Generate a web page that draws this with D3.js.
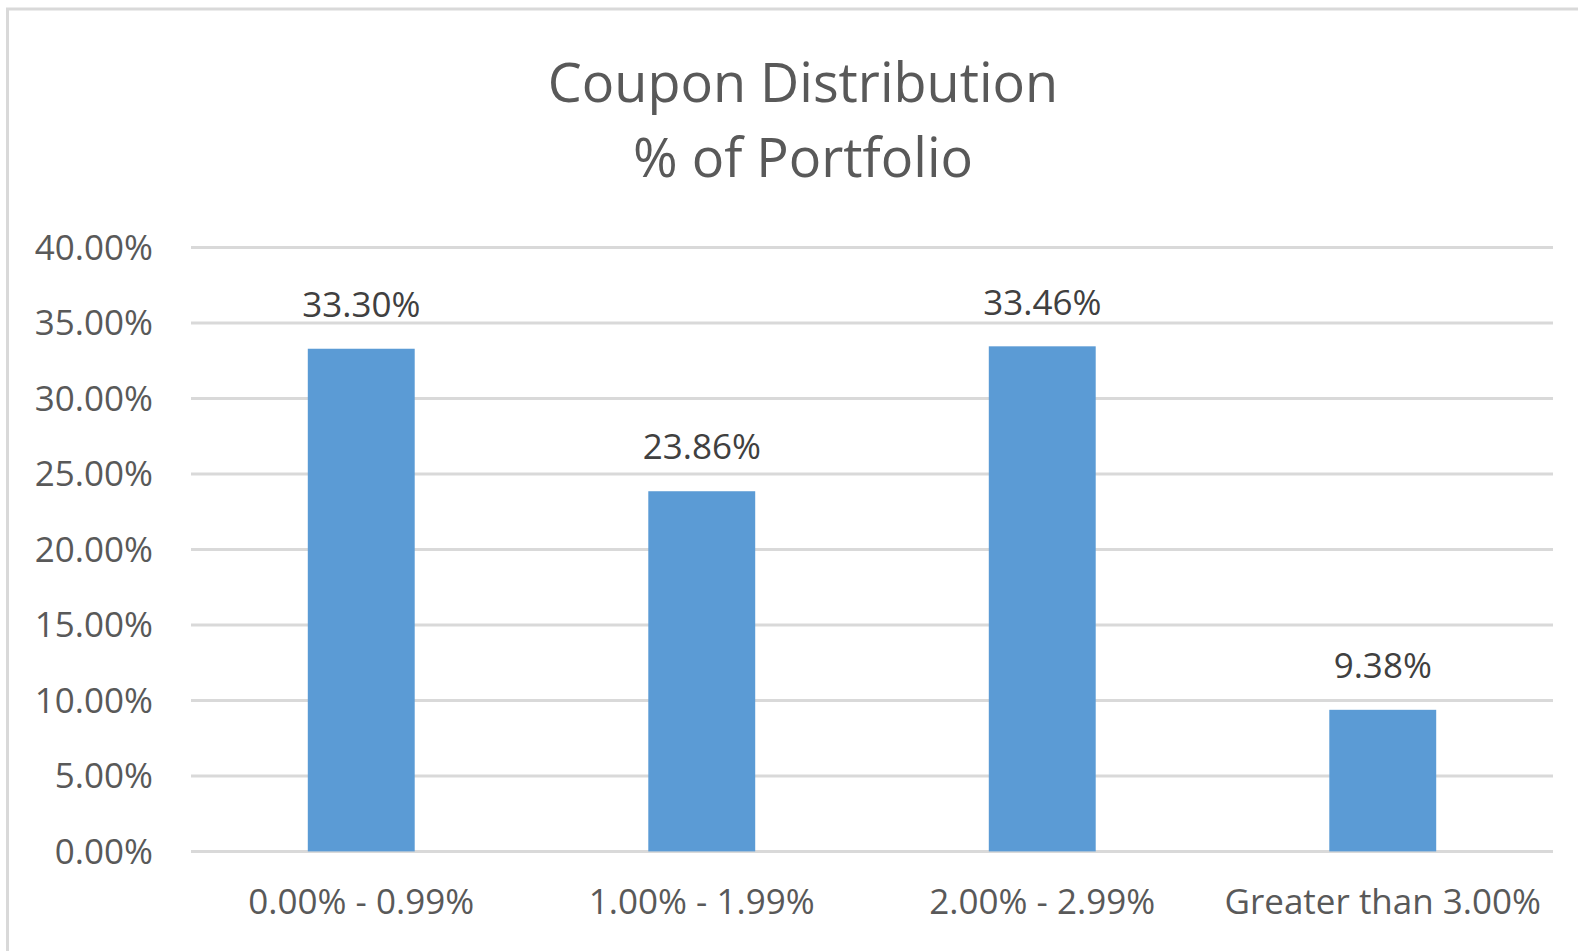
<!DOCTYPE html>
<html>
<head>
<meta charset="utf-8">
<script src="https://cdn.jsdelivr.net/npm/d3@7"></script>
<style>
  body { margin: 0; background: #fff; }
  text { font-family: "Open Sans", sans-serif; }
</style>
</head>
<body>
<script>
const width = 1578;
const height = 951;

const categories = ['0.00% - 0.99%', '1.00% - 1.99%', '2.00% - 2.99%', 'Greater than 3.00%'];
const values = [33.30, 23.86, 33.46, 9.38];
const yTicks = [0, 5, 10, 15, 20, 25, 30, 35, 40];
const titleLines = ['Coupon Distribution', '% of Portfolio'];

const plot = { left: 191, right: 1553, top: 247.6, bottom: 851.4 };

const svg = d3.select('body').append('svg').attr('width', width).attr('height', height);

// chart area border (runs off the right and bottom edges)
svg.append('rect')
  .attr('x', 7.5).attr('y', 9)
  .attr('width', 1700).attr('height', 1100)
  .attr('fill', '#fff')
  .attr('stroke', '#d9d9d9')
  .attr('stroke-width', 3);

const x = d3.scaleBand().domain(categories).range([plot.left, plot.right]).padding(0);
const y = d3.scaleLinear().domain([0, 40]).range([plot.bottom, plot.top]);
const barW = x.bandwidth() * 0.314;

// gridlines
svg.selectAll('.grid')
  .data(yTicks)
  .enter()
  .append('line')
  .attr('class', 'grid')
  .attr('x1', plot.left)
  .attr('x2', plot.right)
  .attr('y1', (d) => y(d))
  .attr('y2', (d) => y(d))
  .attr('stroke', '#d9d9d9')
  .attr('stroke-width', 3);

// y tick labels
svg.selectAll('.ytick')
  .data(yTicks)
  .enter()
  .append('text')
  .attr('class', 'ytick')
  .attr('x', 153)
  .attr('y', (d) => y(d))
  .attr('dy', '0.35em')
  .attr('text-anchor', 'end')
  .attr('fill', '#595959')
  .attr('font-size', 35)
  .text((d) => d.toFixed(2) + '%');

// bars
svg.selectAll('.bar')
  .data(values)
  .enter()
  .append('rect')
  .attr('class', 'bar')
  .attr('x', (d, i) => x(categories[i]) + x.bandwidth() / 2 - barW / 2)
  .attr('y', (d) => y(d))
  .attr('width', barW)
  .attr('height', (d) => y(0) - y(d))
  .attr('fill', '#5b9bd5');

// value labels
svg.selectAll('.vlabel')
  .data(values)
  .enter()
  .append('text')
  .attr('class', 'vlabel')
  .attr('x', (d, i) => x(categories[i]) + x.bandwidth() / 2)
  .attr('y', (d) => y(d) - 44)
  .attr('dy', '0.35em')
  .attr('text-anchor', 'middle')
  .attr('fill', '#404040')
  .attr('font-size', 35)
  .text((d) => d.toFixed(2) + '%');

// category labels
svg.selectAll('.xtick')
  .data(categories)
  .enter()
  .append('text')
  .attr('class', 'xtick')
  .attr('x', (d) => x(d) + x.bandwidth() / 2)
  .attr('y', 902)
  .attr('dy', '0.35em')
  .attr('text-anchor', 'middle')
  .attr('fill', '#595959')
  .attr('font-size', 35)
  .text((d) => d);

// title
svg.selectAll('.title')
  .data(titleLines)
  .enter()
  .append('text')
  .attr('class', 'title')
  .attr('x', 803)
  .attr('y', (d, i) => 83 + i * 75)
  .attr('dy', '0.35em')
  .attr('text-anchor', 'middle')
  .attr('fill', '#595959')
  .attr('font-size', 54)
  .text((d) => d);
</script>
</body>
</html>
